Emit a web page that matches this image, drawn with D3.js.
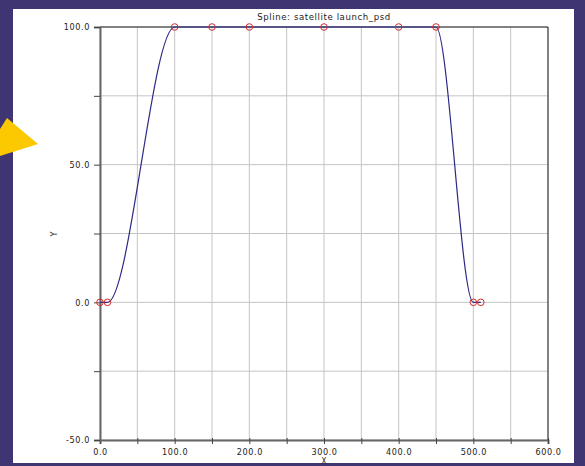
<!DOCTYPE html>
<html>
<head>
<meta charset="utf-8">
<script src="https://cdn.jsdelivr.net/npm/d3@7/dist/d3.min.js"></script>
<style>
  html, body { margin: 0; padding: 0; background: #3f3573; }
  svg { display: block; }
  text { font-family: "Liberation Sans Narrow", "DejaVu Sans Condensed", "Liberation Sans", sans-serif; fill: #222; }
</style>
</head>
<body>
<svg id="chart" width="585" height="466"></svg>
<script>
// Spline knots (x, y)
const knotX = [0, 10, 100, 150, 200, 300, 400, 450, 500, 510];
const knotY = [0, 0, 100, 100, 100, 100, 100, 100, 0, 0];

// Axis ticks
const xTicks = [0, 50, 100, 150, 200, 250, 300, 350, 400, 450, 500, 550, 600];
const xTickLabels = ["0.0", "100.0", "200.0", "300.0", "400.0", "500.0", "600.0"];
const yTicks = [-50, -25, 0, 25, 50, 75, 100];
const yTickLabels = ["-50.0", "0.0", "50.0", "100.0"];

const titleText = "Spline:  satellite launch_psd";

const svg = d3.select("#chart");

// white panel on the dark page
svg.append("rect").attr("x", 13).attr("y", 9).attr("width", 561).attr("height", 454).attr("fill", "#ffffff");

const x = d3.scaleLinear().domain([0, 600]).range([100, 548]);
const y = d3.scaleLinear().domain([-50, 100]).range([440, 27]);

// grid
const grid = svg.append("g");
grid.selectAll("line.vx").data(xTicks).join("line")
  .attr("x1", d => x(d)).attr("x2", d => x(d)).attr("y1", y(-50)).attr("y2", y(100))
  .attr("stroke", "#c4c4c4").attr("stroke-width", 1);
grid.selectAll("line.hy").data(yTicks).join("line")
  .attr("x1", x(0)).attr("x2", x(600)).attr("y1", d => y(d)).attr("y2", d => y(d))
  .attr("stroke", "#c4c4c4").attr("stroke-width", 1);

// frame top and right
svg.append("line").attr("x1", x(0)).attr("x2", x(600)).attr("y1", y(100)).attr("y2", y(100)).attr("stroke", "#222");
svg.append("line").attr("x1", x(600)).attr("x2", x(600)).attr("y1", y(100)).attr("y2", y(-50)).attr("stroke", "#222");

// axes
const xAxis = d3.axisBottom(x).tickValues(xTicks).tickSize(4)
  .tickFormat(d => xTickLabels.includes(d.toFixed(1)) ? d.toFixed(1) : "");
const gx = svg.append("g").attr("transform", `translate(0,${y(-50)})`).call(xAxis);
gx.select(".domain").attr("stroke", "#666").attr("stroke-width", 2);
gx.selectAll(".tick line").attr("stroke", "#444").attr("y1", -2);
gx.selectAll(".tick text").attr("font-size", 9).attr("dy", "0.85em").attr("y", 7).attr("letter-spacing", 0.6);

const yAxis = d3.axisLeft(y).tickValues(yTicks).tickSize(6)
  .tickFormat(d => yTickLabels.includes(d.toFixed(1)) ? d.toFixed(1) : "");
const gy = svg.append("g").attr("transform", `translate(${x(0)},0)`).call(yAxis);
gy.select(".domain").attr("stroke", "#666").attr("stroke-width", 2);
gy.selectAll(".tick line").attr("stroke", "#444");
gy.selectAll(".tick text").attr("font-size", 9).attr("x", -10).attr("letter-spacing", 0.6);
svg.selectAll(".domain").attr("fill", "none");

// title and axis names
svg.append("text").attr("x", 324).attr("y", 20).attr("text-anchor", "middle")
  .attr("font-size", 9.5).attr("letter-spacing", 0.6).text(titleText);
svg.append("text").attr("x", 324).attr("y", 464).attr("text-anchor", "middle")
  .attr("font-size", 8).text("X");
svg.append("text").attr("transform", "translate(57,234) rotate(-90)").attr("text-anchor", "middle")
  .attr("font-size", 9).text("Y");

// spline curve
const pts = knotX.map((k, i) => [k, knotY[i]]);
const line = d3.line().x(d => x(d[0])).y(d => y(d[1])).curve(d3.curveMonotoneX);
svg.append("path").attr("d", line(pts)).attr("fill", "none")
  .attr("stroke", "#2c2a86").attr("stroke-width", 1.2);

// knot markers
svg.selectAll("circle.knot").data(pts).join("circle")
  .attr("cx", d => x(d[0])).attr("cy", d => y(d[1])).attr("r", 3.3)
  .attr("fill", "none").attr("stroke", "#d42a2a").attr("stroke-width", 1);

// yellow pointer on the left edge
svg.append("polygon")
  .attr("points", "0,129 7,118 38,144 0,156")
  .attr("fill", "#fcc800");
</script>
</body>
</html>
